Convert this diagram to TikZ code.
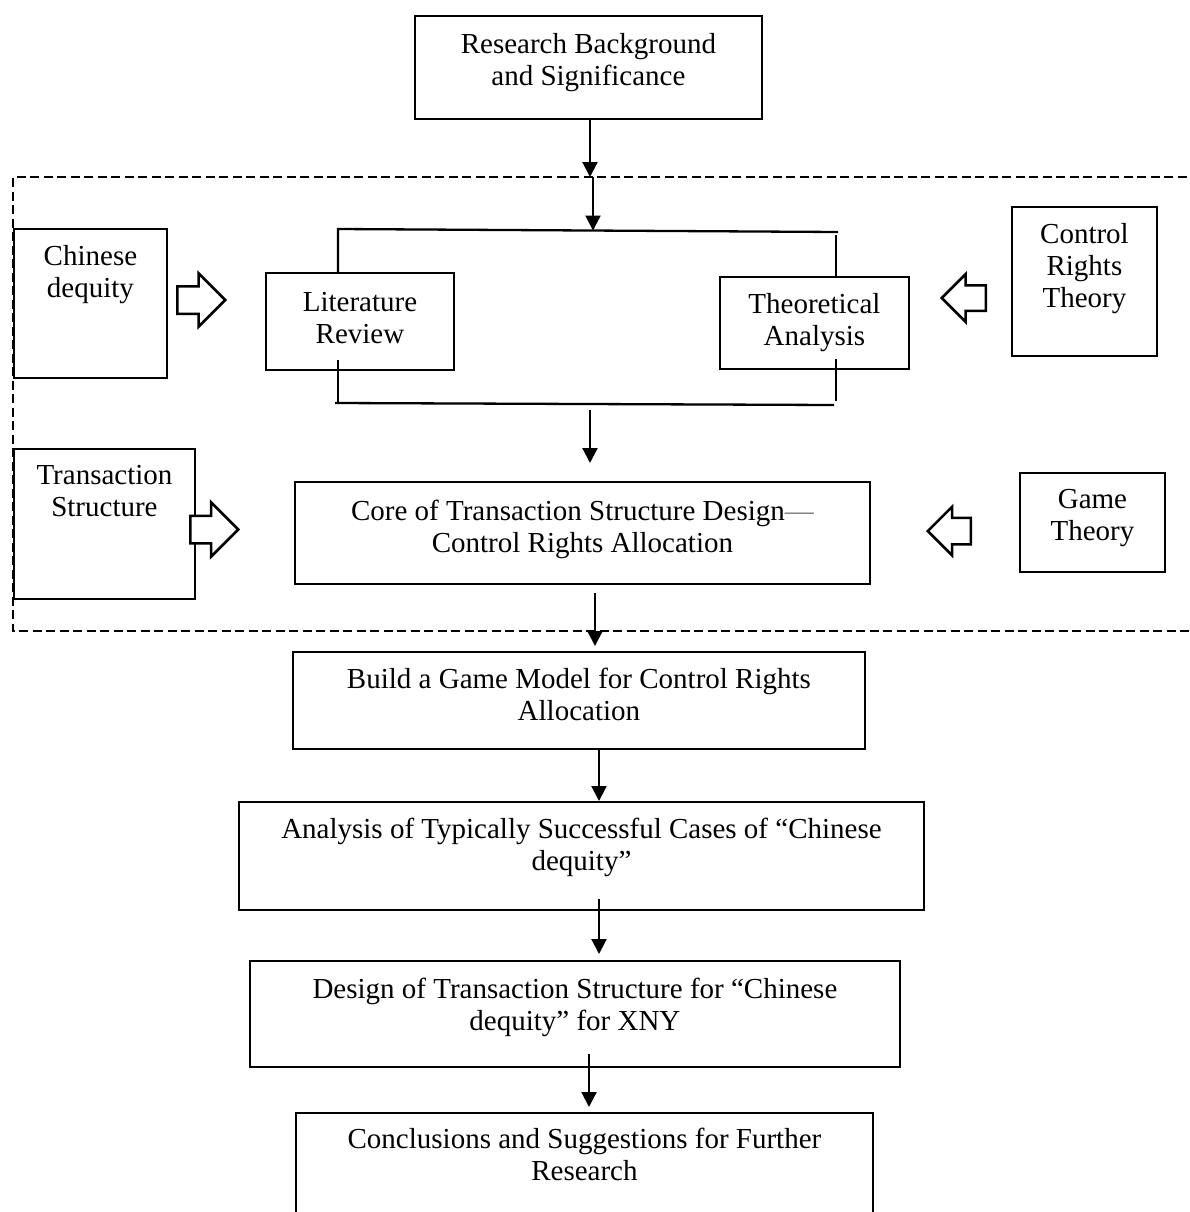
\documentclass[tikz,border=0pt]{standalone}
\usepackage{fontspec}
\setmainfont{Liberation Serif}
\usetikzlibrary{arrows.meta,shapes.arrows}
\begin{document}
\begin{tikzpicture}[x=1pt,y=-1pt,
  box/.style={draw, line width=1.9pt, anchor=north west, inner sep=0pt},
  boxtext/.style={anchor=north, inner sep=0pt, align=center,
    font=\fontsize{29pt}{32pt}\selectfont},
  link/.style={line width=2.3pt},
  arr/.style={line width=2.2pt, -{Triangle[length=15pt,width=15pt]}},
  frame/.style={line width=2.5pt, dash pattern=on 9pt off 4.5pt},
  hollow/.style={single arrow, draw, line width=2.5pt, fill=white,
    inner xsep=0pt, single arrow tip angle=90, anchor=tail}
]
\useasboundingbox (0,0) rectangle (1189,1212);
\clip (0,0) rectangle (1189,1212);

% dashed frame round the middle stage (open on the right)
\coordinate (fTL) at (13,177);
\coordinate (fBL) at (13,631);
\draw[frame] (1200,177) -- (fTL) -- (fBL) -- (1200,631);

% boxes
\node[box, minimum width=347pt, minimum height=103pt] (rb) at (414,15) {};
\node[boxtext] (rb-t) at ([yshift=-18pt]rb.north) {Research Background\\and Significance};

\node[box, minimum width=153pt, minimum height=149pt] (chn) at (13,228) {};
\node[boxtext] (chn-t) at ([yshift=-17pt]chn.north) {Chinese\\dequity};

\node[box, minimum width=188pt, minimum height=97pt] (lit) at (265,272) {};
\node[boxtext] (lit-t) at ([yshift=-20pt]lit.north) {Literature\\Review};

\node[box, minimum width=189pt, minimum height=92pt] (theo) at (719,276) {};
\node[boxtext] (theo-t) at ([yshift=-17pt]theo.north) {Theoretical\\Analysis};

\node[box, minimum width=145pt, minimum height=149pt] (ctrl) at (1011,206) {};
\node[boxtext] (ctrl-t) at ([yshift=-17pt]ctrl.north) {Control\\Rights\\Theory};

\node[box, minimum width=181pt, minimum height=150pt] (trs) at (13,448) {};
\node[boxtext] (trs-t) at ([yshift=-17pt]trs.north) {Transaction\\Structure};

\node[box, minimum width=575pt, minimum height=102pt] (core) at (294,481) {};
\node[boxtext] (core-t) at ([yshift=-19pt]core.north)
  {Core of Transaction Structure Design\textcolor{gray}{—}\\Control Rights Allocation};

\node[box, minimum width=145pt, minimum height=99pt] (game) at (1019,472) {};
\node[boxtext] (game-t) at ([yshift=-17pt]game.north) {Game\\Theory};

\node[box, minimum width=572pt, minimum height=97pt] (build) at (292,651) {};
\node[boxtext] (build-t) at ([yshift=-17pt]build.north)
  {Build a Game Model for Control Rights\\Allocation};

\node[box, minimum width=685pt, minimum height=108pt] (anl) at (238,801) {};
\node[boxtext] (anl-t) at ([yshift=-17pt]anl.north)
  {Analysis of Typically Successful Cases of “Chinese\\dequity”};

\node[box, minimum width=650pt, minimum height=106pt] (dsg) at (249,960) {};
\node[boxtext] (dsg-t) at ([yshift=-18pt]dsg.north)
  {Design of Transaction Structure for “Chinese\\dequity” for XNY};

\node[box, minimum width=577pt, minimum height=130pt] (concl) at (295,1112) {};
\node[boxtext] (concl-t) at ([yshift=-16pt]concl.north)
  {Conclusions and Suggestions for Further\\Research};

% bracket joining the two review boxes
\coordinate (bTL) at (338,229);
\coordinate (bTR) at (838,232);
\coordinate (bTRv) at (836,235);
\draw[link] (lit.north -| bTL) -- (bTL) -- (bTR);
\draw[link] (bTRv) -- (bTRv |- theo.north);
\coordinate (bBLv) at (338,360);
\coordinate (bBL) at (335,403);
\coordinate (bBR) at (834,405);
\coordinate (bBRv) at (836,359);
\coordinate (bBRe) at (836,401);
\draw[link] (bBLv) -- (bBLv |- bBL);
\draw[link] (bBL) -- (bBR);
\draw[link] (bBRv) -- (bBRe);

% main flow arrows
\coordinate (a1) at (590,0);
\draw[arr] (rb.south -| a1) -- (fTL -| a1);
\coordinate (a2) at (593,0);
\coordinate (a2e) at (593,230.5);
\draw[arr] (fTL -| a2) -- (a2e);
\coordinate (a3s) at (590,410);
\coordinate (a3e) at (590,463);
\draw[arr] (a3s) -- (a3e);
\coordinate (a4s) at (595,593);
\coordinate (a4e) at (595,646);
\draw[arr] (a4s) -- (a4e);
\coordinate (a5) at (599,0);
\draw[arr] (build.south -| a5) -- (anl.north -| a5);
\coordinate (a6s) at (599,899);
\coordinate (a6e) at (599,954);
\draw[arr] (a6s) -- (a6e);
\coordinate (a7s) at (589,1054);
\coordinate (a7e) at (589,1107);
\draw[arr] (a7s) -- (a7e);

% hollow block arrows feeding the side topics in
\node[hollow, minimum height=48pt, inner ysep=12.5pt,
  single arrow head extend=13pt] (h1) at (176,300) {};
\node[hollow, minimum height=48pt, inner ysep=12.5pt,
  single arrow head extend=13.5pt] (h2) at (189,529.5) {};
\node[hollow, shape border rotate=180, minimum height=44pt, inner ysep=11.5pt,
  single arrow head extend=11pt] (h3) at (987,298) {};
\node[hollow, shape border rotate=180, minimum height=43pt, inner ysep=12pt,
  single arrow head extend=11pt] (h4) at (972,531) {};
\end{tikzpicture}
\end{document}
